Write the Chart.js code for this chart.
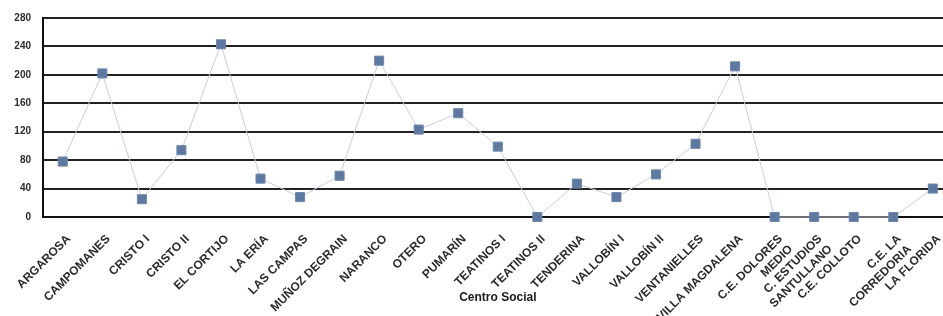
<!DOCTYPE html>
<html>
<head>
<meta charset="utf-8">
<script src="https://cdn.jsdelivr.net/npm/chart.js@4/dist/chart.umd.min.js"></script>
<style>
  html, body { margin: 0; padding: 0; background: #fff; overflow: hidden; }
  #wrap { width: 943px; height: 316px; overflow: hidden; }
</style>
</head>
<body>
<div id="wrap">
  <canvas id="chart" width="960" height="316"></canvas>
</div>
<script>
// centros sociales
const categories = [
    'ARGAROSA', 'CAMPOMANES', 'CRISTO I', 'CRISTO II', 'EL CORTIJO', 'LA ERÍA',
    'LAS CAMPAS', 'MUÑOZ DEGRAIN', 'NARANCO', 'OTERO', 'PUMARÍN', 'TEATINOS I',
    'TEATINOS II', 'TENDERINA', 'VALLOBÍN I', 'VALLOBÍN II', 'VENTANIELLES',
    'VILLA MAGDALENA', ['C.E. DOLORES', 'MEDIO'], ['C. ESTUDIOS', 'SANTULLANO'],
    'C.E. COLLOTO', ['C.E. LA', 'CORREDORIA'], 'LA FLORIDA'
];
const values = [78, 202, 25, 94, 243, 54, 28, 58, 220, 123, 146, 99, 0, 47, 28, 60, 103, 212, 0, 0, 0, 0, 40];
const yTicks = [0, 40, 80, 120, 160, 200, 240, 280];

const ctx = document.getElementById('chart').getContext('2d');

new Chart(ctx, {
    type: 'line',
    data: {
        labels: categories,
        datasets: [{
            data: values,
            borderColor: '#c6cde0',
            borderWidth: 1,
            pointStyle: 'rect',
            pointRadius: 6.4,
            pointHoverRadius: 6.4,
            pointBackgroundColor: '#5f789f',
            pointBorderColor: '#6d86ad',
            pointBorderWidth: 1,
            tension: 0,
            clip: false
        }]
    },
    options: {
        responsive: false,
        animation: false,
        layout: {
            padding: { top: 15, right: 3, left: 0, bottom: 0 }
        },
        plugins: {
            legend: { display: false },
            tooltip: { enabled: false }
        },
        scales: {
            x: {
                offset: true,
                grid: { display: false, drawTicks: false },
                border: { display: true, color: '#111', width: 2 },
                ticks: {
                    autoSkip: false,
                    maxRotation: 45,
                    minRotation: 45,
                    padding: 15,
                    labelOffset: 6,
                    color: '#2b2b2b',
                    font: { family: 'Liberation Sans, Arial', size: 12, weight: 'bold' }
                },
                title: {
                    display: true,
                    text: 'Centro Social',
                    color: '#1a1a1a',
                    font: { family: 'Liberation Sans, Arial', size: 12, weight: 'bold' },
                    padding: { top: 0, bottom: 11 }
                },
                afterFit: scale => {
                    scale.height = 99;
                    scale.paddingLeft = 0;
                    scale.paddingRight = 0;
                }
            },
            y: {
                min: 0,
                max: 280,
                afterBuildTicks: scale => { scale.ticks = yTicks.map(v => ({ value: v })); },
                grid: { color: '#222', lineWidth: 2, drawTicks: false },
                border: { display: true, color: '#111', width: 2 },
                ticks: {
                    padding: 12,
                    color: '#2b2b2b',
                    font: { family: 'Liberation Sans, Arial', size: 10, weight: 'bold' }
                },
                afterFit: scale => { scale.width = 43; }
            }
        }
    }
});
</script>
</body>
</html>
